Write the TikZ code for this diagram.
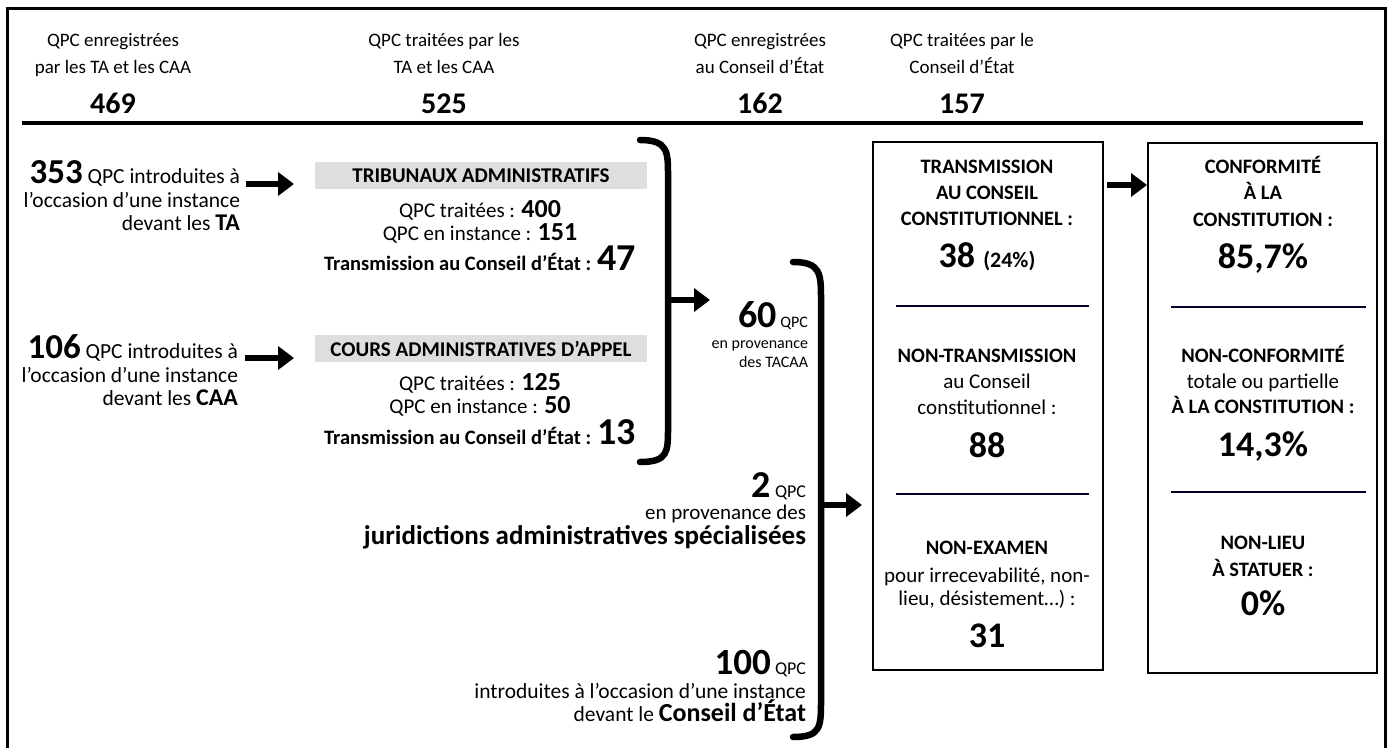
\documentclass[tikz,border=0pt]{standalone}
\usepackage{fontspec}
\setmainfont{Carlito}
\usetikzlibrary{arrows.meta}
\newcommand\myfs[2]{\fontsize{#1}{#2}\selectfont}
\newcommand\bignum[2]{{\myfs{#1}{#1}\bfseries #2}}
\tikzset{
  hd/.style={anchor=base, font=\myfs{19}{23}},
  hn/.style={anchor=base, font=\myfs{30}{34}\bfseries},
  lt/.style={anchor=base east, font=\myfs{21.5}{24}},
  ct/.style={anchor=base, font=\myfs{21}{24}},
  cb/.style={anchor=base, font=\myfs{20.5}{24}\bfseries},
  graybox/.style={fill=black!13, minimum width=332pt, minimum height=27pt, font=\myfs{21}{24}\bfseries},
  bigarrow/.style={line width=6.5pt, -{Triangle[length=16pt,width=23pt]}},
  brace/.style={line width=6.5pt, line cap=round},
  rbox/.style={draw, line width=1.3pt},
  bt/.style={anchor=base, font=\myfs{20.5}{24}\bfseries},
  br/.style={anchor=base, font=\myfs{21}{24}},
  bn/.style={anchor=base, font=\myfs{36}{38}\bfseries},
  sepline/.style={line width=2pt, black!85!blue}
}
\begin{document}
\begin{tikzpicture}[x=1pt,y=-1pt, every node/.style={inner sep=0pt, outer sep=0pt}]
\useasboundingbox (0,0) rectangle (1389,747);
% frame
\draw[line width=3pt] (7,760) -- (7,8) -- (1385,8) -- (1385,760);
% header
\node[hd] (h1a) at (113,46) {QPC enregistrées};
\node[hd] (h1b) at (113,73) {par les TA et les CAA};
\node[hn] (h1n) at (113,113) {469};
\node[hd] (h2a) at (444,46) {QPC traitées par les};
\node[hd] (h2b) at (444,73) {TA et les CAA};
\node[hn] (h2n) at (444,113) {525};
\node[hd] (h3a) at (760,46) {QPC enregistrées};
\node[hd] (h3b) at (760,73) {au Conseil d’État};
\node[hn] (h3n) at (760,113) {162};
\node[hd] (h4a) at (962,46) {QPC traitées par le};
\node[hd] (h4b) at (962,73) {Conseil d’État};
\node[hn] (h4n) at (962,113) {157};
\coordinate (rl) at (22,123); \coordinate (rr) at (1363,123);
\draw[line width=4.5pt] (rl) -- (rr);
% left block TA
\node[lt] (l1a) at (240,183) {\bignum{35}{353} QPC introduites à};
\node[lt] (l1b) at (240,207) {l’occasion d’une instance};
\node[lt] (l1c) at (240,230) {devant les \bignum{24}{TA}};
\node[graybox] (tabox) at (481,175.5) {TRIBUNAUX ADMINISTRATIFS};
\node[ct] (ta1) at (480,217) {QPC traitées : \bignum{26}{400}};
\node[ct] (ta2) at (480,240) {QPC en instance : \bignum{26}{151}};
\node[cb] (ta3) at (480,270) {Transmission au Conseil d’État : \bignum{38}{47}};
\coordinate (a1s) at (246,184);
\draw[bigarrow, shorten >=21pt] (a1s) -- (a1s -| tabox.west);
% left block CAA
\node[lt] (l2a) at (238,358) {\bignum{35}{106} QPC introduites à};
\node[lt] (l2b) at (238,382) {l’occasion d’une instance};
\node[lt] (l2c) at (238,405) {devant les \bignum{24}{CAA}};
\node[graybox] (caabox) at (481,348.5) {COURS ADMINISTRATIVES D’APPEL};
\node[ct] (caa1) at (480,390) {QPC traitées : \bignum{26}{125}};
\node[ct] (caa2) at (480,413) {QPC en instance : \bignum{26}{50}};
\node[cb] (caa3) at (480,444) {Transmission au Conseil d’État : \bignum{38}{13}};
\coordinate (a2s) at (245,358);
\draw[bigarrow, shorten >=21pt] (a2s) -- (a2s -| caabox.west);
% brace 1
\coordinate (b1t) at (640,140); \coordinate (b1b) at (640,462);
\draw[brace] (b1t) .. controls (668,140) and (668,152) .. (668,175) -- (668,428) .. controls (668,452) and (668,462) .. (b1b);
\coordinate (b1m) at (668,300); \coordinate (b1e) at (710,300);
\draw[bigarrow] (b1m) -- (b1e);
% 60 QPC
\node[anchor=base east, font=\myfs{16}{18}] (n60a) at (808,327) {\bignum{38}{60} QPC};
\node[anchor=base east, font=\myfs{16}{18}] (n60b) at (808,348) {en provenance};
\node[anchor=base east, font=\myfs{16}{18}] (n60c) at (808,367) {des TACAA};
% brace 2
\coordinate (b2t) at (793,262); \coordinate (b2b) at (793,737);
\draw[brace] (b2t) .. controls (821,262) and (821,274) .. (821,300) -- (821,700) .. controls (821,727) and (821,737) .. (b2b);
\coordinate (b2m) at (821,505);
% 2 QPC
\node[anchor=base east, font=\myfs{18}{20}] (n2a) at (806,497) {\bignum{38}{2} QPC};
\node[anchor=base east, font=\myfs{21}{24}] (n2b) at (806,519) {en provenance des};
\node[anchor=base east, font=\myfs{27}{29}\bfseries] (n2c) at (806,544) {juridictions administratives spécialisées};
% 100 QPC
\node[anchor=base east, font=\myfs{18}{20}] (n100a) at (806,674) {\bignum{37}{100} QPC};
\node[anchor=base east, font=\myfs{21.5}{24}] (n100b) at (806,698) {introduites à l’occasion d’une instance};
\node[anchor=base east, font=\myfs{21.5}{24}] (n100c) at (806,721) {devant le \bignum{26}{Conseil d’État}};
% right boxes
\node[rbox, minimum width=230pt, minimum height=528pt] (box1) at (988,406) {};
\node[rbox, minimum width=229pt, minimum height=530pt] (box2) at (1262.5,408) {};
\draw[bigarrow, shorten >=11pt] (b2m) -- (b2m -| box1.west);
\coordinate (c1) at (1107,185);
\draw[bigarrow, shorten >=1pt] (c1) -- (c1 -| box2.west);
% box1 text
\node[bt] (t1) at (987,173) {TRANSMISSION};
\node[bt] (t2) at (987,199) {AU CONSEIL};
\node[bt] (t3) at (987,225) {CONSTITUTIONNEL :};
\node[bn] (t4) at (987,267) {38 {\myfs{22}{22}(24\%)}};
\draw[sepline] (896,306) -- (1089,306);
\node[bt] (t5) at (987,362) {NON-TRANSMISSION};
\node[br] (t6) at (987,388) {au Conseil};
\node[br] (t7) at (987,414) {constitutionnel :};
\node[bn] (t8) at (987,457) {88};
\draw[sepline] (896,494) -- (1089,494);
\node[bt] (t9) at (987,554) {NON-EXAMEN};
\node[br] (t10) at (987,582) {pour irrecevabilité, non-};
\node[br] (t11) at (987,605) {lieu, désistement…) :};
\node[bn] (t12) at (987,647) {31};
% box2 text
\node[bt] (s1) at (1263,173) {CONFORMITÉ};
\node[bt] (s2) at (1263,199) {À LA};
\node[bt] (s3) at (1263,226) {CONSTITUTION :};
\node[bn] (s4) at (1263,268) {85,7\%};
\draw[sepline] (1171,307) -- (1366,307);
\node[bt] (s5) at (1263,362) {NON-CONFORMITÉ};
\node[br] (s6) at (1263,388) {totale ou partielle};
\node[bt] (s7) at (1263,413) {À LA CONSTITUTION :};
\node[bn] (s8) at (1263,456) {14,3\%};
\draw[sepline] (1171,492) -- (1366,492);
\node[bt] (s9) at (1263,549) {NON-LIEU};
\node[bt] (s10) at (1263,576) {À STATUER :};
\node[bn] (s11) at (1263,615) {0\%};
\end{tikzpicture}
\end{document}
